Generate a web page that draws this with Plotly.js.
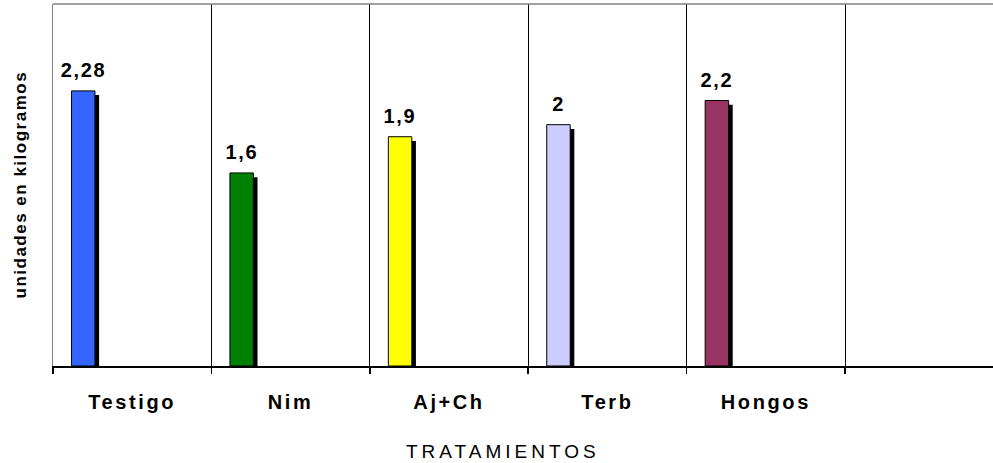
<!DOCTYPE html>
<html>
<head>
<meta charset="utf-8">
<script src="https://cdn.plot.ly/plotly-3.0.1.min.js"></script>
<style>
  html, body { margin: 0; padding: 0; background: #fff; }
  #chart { width: 993px; height: 463px; }
  .xtick text { letter-spacing: 2.6px; }
  .annotation text { letter-spacing: 1.6px; }
  .annotation[data-index="5"] text { letter-spacing: 1.5px; }
  .annotation[data-index="6"] text { letter-spacing: 4px; }
</style>
</head>
<body>
<div id="chart"></div>
<script>
// ---- data ----
const categories = ['Testigo', 'Nim', 'Aj+Ch', 'Terb', 'Hongos', ' '];
const values = [2.28, 1.6, 1.9, 2, 2.2, null];
const valueLabels = ['2,28', '1,6', '1,9', '2', '2,2'];
const barColors = ['#3366FF', '#008000', '#FFFF00', '#CCCCFF', '#993366', '#FFFFFF'];
const yAxisTitle = 'unidades en kilogramos';
const xAxisTitle = 'TRATAMIENTOS';

// ---- styling constants ----
const FONT = 'Liberation Sans, Arial, sans-serif';
const BAR_OFFSET = -0.383;   // left edge of bar relative to category center
const BAR_WIDTH = 0.148;
const SHADOW_DX = 0.026;     // in category units (~4px)
const SHADOW_DY = 0.035;     // in value units (~4px)

const shadow = {
  type: 'bar',
  x: categories,
  y: values.map(v => v == null ? null : v - SHADOW_DY),
  offset: BAR_OFFSET + SHADOW_DX,
  width: BAR_WIDTH,
  marker: { color: '#000000', line: { width: 0 } },
  hoverinfo: 'skip',
  showlegend: false
};

const bars = {
  type: 'bar',
  x: categories,
  y: values,
  offset: BAR_OFFSET,
  width: BAR_WIDTH,
  marker: { color: barColors, line: { color: '#000000', width: 1 } },
  showlegend: false
};

const annotations = valueLabels.map((t, i) => ({
  xref: 'x', yref: 'y',
  x: i + BAR_OFFSET + BAR_WIDTH / 2,
  y: values[i],
  text: '<b>' + t + '</b>',
  showarrow: false,
  xanchor: 'center', yanchor: 'bottom',
  yshift: 8,
  font: { family: FONT, size: 20, color: '#000' }
}));

annotations.push({
  xref: 'paper', yref: 'paper',
  x: (20 - 53) / 940, y: 0.5,
  text: '<b>' + yAxisTitle + '</b>',
  textangle: -90,
  showarrow: false,
  xanchor: 'center', yanchor: 'middle',
  font: { family: FONT, size: 17, color: '#000' }
});

annotations.push({
  xref: 'paper', yref: 'paper',
  x: (503 - 53) / 940, y: -85 / 362,
  text: xAxisTitle,
  showarrow: false,
  xanchor: 'center', yanchor: 'middle',
  font: { family: FONT, size: 19, color: '#000' }
});

const layout = {
  width: 993, height: 463,
  margin: { l: 53, r: 0, t: 4, b: 97, pad: 0 },
  paper_bgcolor: '#ffffff',
  plot_bgcolor: '#ffffff',
  barmode: 'overlay',
  showlegend: false,
  font: { family: FONT, color: '#000' },
  xaxis: {
    type: 'category',
    categoryorder: 'array',
    categoryarray: categories,
    range: [-0.5, 5.434],
    tickson: 'boundaries',
    ticks: 'outside',
    ticklen: 6,
    tickwidth: 1.5,
    tickcolor: '#000',
    showgrid: true,
    gridcolor: '#000',
    gridwidth: 1,
    showline: true,
    linecolor: '#000',
    linewidth: 2,
    tickfont: { family: FONT, size: 20, color: '#000', weight: 'bold' },
    ticklabelstandoff: 17,
    zeroline: false,
    fixedrange: true
  },
  yaxis: {
    range: [0, 3],
    showticklabels: false,
    ticks: '',
    showgrid: false,
    zeroline: false,
    showline: true,
    linecolor: '#808080',
    linewidth: 1.5,
    fixedrange: true
  },
  shapes: [{
    type: 'line', xref: 'paper', yref: 'paper',
    x0: 0, x1: 1, y0: 1, y1: 1,
    line: { color: '#808080', width: 1.5 }
  }],
  annotations: annotations
};

Plotly.newPlot('chart', [shadow, bars], layout, { staticPlot: true, displayModeBar: false });
</script>
</body>
</html>
